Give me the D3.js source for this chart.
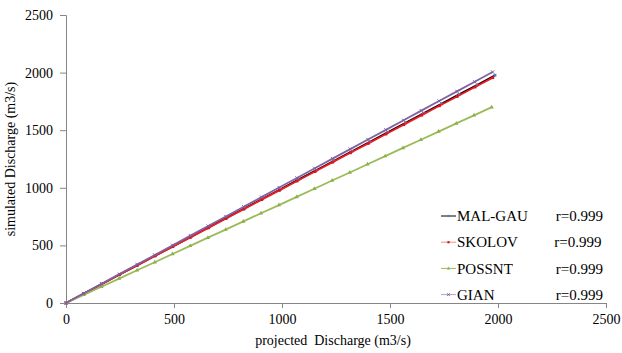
<!DOCTYPE html>
<html>
<head>
<meta charset="utf-8">
<script src="https://cdn.jsdelivr.net/npm/d3@7"></script>
<style>
  body { margin: 0; background: #fff; }
</style>
</head>
<body>
<div class="chart"></div>
<script>
const xTicks = [0, 500, 1000, 1500, 2000, 2500];
const yTicks = [0, 500, 1000, 1500, 2000, 2500];

const malGauX = [0, 83, 165, 248, 331, 414, 496, 579, 662, 745, 827, 910, 993, 1076, 1158, 1241, 1324, 1407, 1489, 1572, 1655, 1738, 1820, 1903, 1986];
const malGauY = [0, 83, 164, 247, 329, 412, 494, 576, 659, 741, 823, 905, 988, 1071, 1152, 1235, 1317, 1400, 1482, 1564, 1647, 1729, 1811, 1893, 1977];

const skolovX = [0, 82, 165, 247, 329, 412, 494, 576, 659, 741, 823, 906, 988, 1070, 1153, 1235, 1317, 1400, 1482, 1564, 1647, 1729, 1811, 1894, 1976];
const skolovY = [0, 81, 163, 245, 326, 408, 489, 570, 652, 733, 815, 897, 978, 1059, 1141, 1223, 1304, 1386, 1467, 1548, 1631, 1712, 1793, 1875, 1956];

const possntX = [0, 82, 164, 246, 329, 411, 493, 575, 657, 739, 821, 903, 986, 1068, 1150, 1232, 1314, 1396, 1478, 1560, 1643, 1725, 1807, 1889, 1971];
const possntY = [0, 71, 141, 212, 284, 354, 425, 496, 567, 637, 708, 779, 850, 921, 992, 1063, 1133, 1204, 1275, 1346, 1417, 1488, 1559, 1629, 1700];

const gianX = [0, 82, 165, 247, 329, 411, 494, 576, 658, 740, 823, 905, 987, 1069, 1152, 1234, 1316, 1398, 1481, 1563, 1645, 1727, 1810, 1892, 1975];
const gianY = [0, 83, 167, 251, 334, 417, 501, 585, 668, 751, 835, 919, 1002, 1085, 1169, 1253, 1336, 1419, 1503, 1586, 1670, 1753, 1837, 1920, 2005];

const seriesNames = ["MAL-GAU", "SKOLOV", "POSSNT", "GIAN"];
const rLabels = ["r=0.999", "r=0.999", "r=0.999", "r=0.999"];

const series = [
  { name: seriesNames[0], r: rLabels[0], xs: malGauX, ys: malGauY, line: "#000000", key: "#000000", marker: "#4f81bd", shape: d3.symbolSquare },
  { name: seriesNames[1], r: rLabels[1], xs: skolovX, ys: skolovY, line: "#ee1c25", key: "#f28a8f", marker: "#d9151e", shape: d3.symbolSquare },
  { name: seriesNames[2], r: rLabels[2], xs: possntX, ys: possntY, line: "#9bbb59", key: "#9bbb59", marker: "#8cb04a", shape: d3.symbolTriangle },
  { name: seriesNames[3], r: rLabels[3], xs: gianX, ys: gianY, line: "#8064a2", key: "#b3a2c7", marker: "#7b5fa0", shape: d3.symbolTimes }
];

const serif = "'Liberation Serif', 'Times New Roman', Times, serif";

const margin = { top: 15, right: 16, bottom: 50, left: 66 };
const width = 622 - margin.left - margin.right;
const height = 353 - margin.top - margin.bottom;

const xScale = d3.scaleLinear().domain([0, 2500]).range([0, width]);
const yScale = d3.scaleLinear().domain([0, 2500]).range([height, 0]);

const svg = d3
  .select(".chart")
  .append("svg")
  .attr("width", 622)
  .attr("height", 353)
  .append("g")
  .attr("transform", "translate(" + margin.left + "," + margin.top + ")");

// axes
const xAxis = svg
  .append("g")
  .attr("transform", "translate(0," + height + ")")
  .call(d3.axisBottom(xScale).tickValues(xTicks).tickFormat(d3.format("d")).tickSize(5).tickPadding(6));
const yAxis = svg
  .append("g")
  .call(d3.axisLeft(yScale).tickValues(yTicks).tickFormat(d3.format("d")).tickSize(6).tickPadding(7));

[xAxis, yAxis].forEach((ax) => {
  ax.attr("font-family", serif).attr("font-size", 14);
  ax.selectAll("path, line").attr("stroke", "#868686");
  ax.selectAll("text").attr("fill", "#000");
});

// lines
const line = d3
  .line()
  .x((d) => xScale(d[0]))
  .y((d) => yScale(d[1]));

series.forEach((s) => {
  const pts = s.xs.map((x, i) => [x, s.ys[i]]);
  svg
    .append("path")
    .datum(pts)
    .attr("d", line)
    .attr("fill", "none")
    .attr("stroke", s.line)
    .attr("stroke-width", 1.8);

  svg
    .selectAll(null)
    .data(pts)
    .enter()
    .append("path")
    .attr("transform", (d) => "translate(" + xScale(d[0]) + "," + yScale(d[1]) + ")")
    .attr("d", d3.symbol().type(s.shape).size(8))
    .attr("fill", s.marker)
    .attr("stroke", s.shape === d3.symbolTimes ? s.marker : "none")
    .attr("stroke-width", 1);
});

// legend
const legend = svg
  .append("g")
  .attr("font-family", serif)
  .attr("font-size", 15)
  .attr("transform", "translate(" + (441 - margin.left) + "," + (216 - margin.top) + ")");
series.forEach((s, i) => {
  const g = legend.append("g").attr("transform", "translate(0," + i * 26.2 + ")");
  g.append("line")
    .attr("x1", 0).attr("x2", 15)
    .attr("stroke", s.key)
    .attr("stroke-width", 1);
  g.append("path")
    .attr("transform", "translate(7.5,0)")
    .attr("d", d3.symbol().type(s.shape).size(5))
    .attr("fill", s.marker)
    .attr("stroke", s.shape === d3.symbolTimes ? s.marker : "none");
  g.append("text")
    .attr("x", 16)
    .attr("dy", "0.35em")
    .text(s.name);
  g.append("text")
    .attr("x", (i === 1 ? 601.5 : 603) - 441)
    .attr("text-anchor", "end")
    .attr("dy", "0.35em")
    .text(s.r);
});

// axis titles
svg
  .append("text")
  .attr("x", width / 2 - 3)
  .attr("y", height + 42)
  .attr("text-anchor", "middle")
  .attr("font-family", serif)
  .attr("font-size", 14)
  .style("white-space", "pre")
  .text("projected  Discharge (m3/s)");

svg
  .append("text")
  .attr("transform", "rotate(-90)")
  .attr("x", -height / 2)
  .attr("y", -51)
  .attr("text-anchor", "middle")
  .attr("font-family", serif)
  .attr("font-size", 14)
  .text("simulated Discharge (m3/s)");
</script>
</body>
</html>
